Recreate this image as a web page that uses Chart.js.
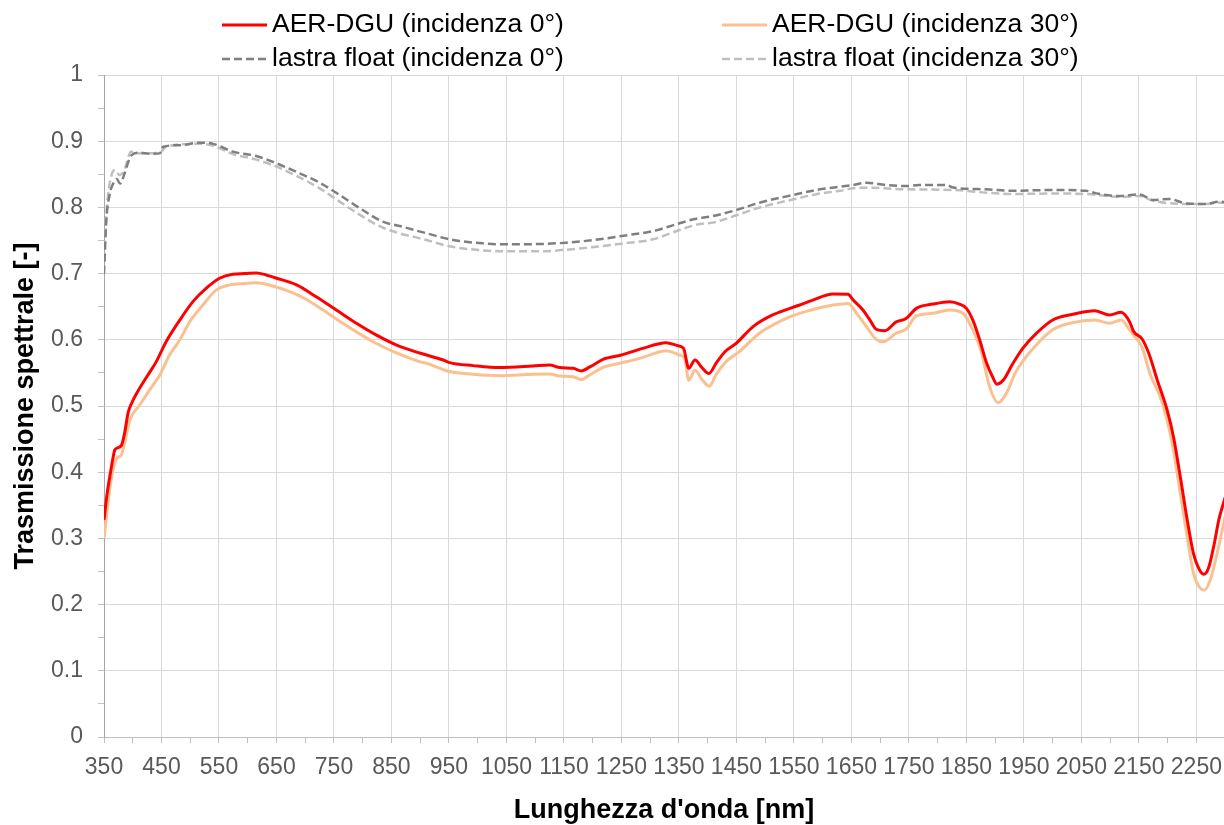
<!DOCTYPE html>
<html><head><meta charset="utf-8">
<script src="https://cdn.jsdelivr.net/npm/chart.js@4"></script>
<style>html,body{margin:0;padding:0;background:#fff;overflow:hidden}</style>
</head><body>
<div style="width:1224px;height:825px"><canvas id="c" width="1224" height="825"></canvas></div>
<script>
// ---- Data ----
const seriesLabels = ['AER-DGU (incidenza 0°)', 'AER-DGU (incidenza 30°)', 'lastra float (incidenza 0°)', 'lastra float (incidenza 30°)'];

const aer0_nm = [350,355,360,366,369,380,386,392,398,412,425,441,458,482,505,528,551,574,595,615,632,650,685,719,754,789,824,859,899,940,951,992,1038,1096,1125,1143,1166,1180,1195,1218,1250,1287,1328,1348,1358,1367,1378,1390,1402,1415,1430,1450,1479,1513,1560,1583,1618,1644,1653,1670,1682,1693,1708,1728,1745,1763,1792,1821,1838,1850,1861,1873,1885,1895,1903,1915,1930,1948,1972,2000,2035,2073,2099,2119,2134,2141,2155,2167,2182,2199,2210,2222,2234,2245,2257,2263,2271,2280,2289,2300];
const aer0_T  = [0.328,0.365,0.393,0.423,0.434,0.440,0.460,0.490,0.504,0.527,0.545,0.567,0.597,0.630,0.658,0.678,0.693,0.699,0.700,0.701,0.698,0.693,0.683,0.665,0.645,0.625,0.607,0.592,0.580,0.5695,0.5655,0.561,0.558,0.5604,0.562,0.558,0.557,0.553,0.559,0.5705,0.577,0.587,0.5956,0.591,0.587,0.557,0.5695,0.558,0.549,0.565,0.582,0.595,0.620,0.6375,0.6526,0.660,0.669,0.6687,0.660,0.645,0.630,0.616,0.6137,0.627,0.632,0.6475,0.654,0.6576,0.654,0.6475,0.630,0.600,0.565,0.545,0.533,0.540,0.563,0.587,0.610,0.630,0.6385,0.644,0.6375,0.6415,0.627,0.6123,0.602,0.580,0.539,0.494,0.454,0.393,0.328,0.277,0.250,0.246,0.255,0.2875,0.328,0.362];

const aer30_nm = [350,354,360,366,372,380,386,395,412,430,447,464,482,499,522,545,569,595,615,640,673,700,731,760,789,818,847,864,899,911,951,992,1038,1096,1125,1143,1166,1180,1195,1218,1247,1282,1317,1328,1351,1360,1367,1378,1390,1403,1415,1432,1455,1490,1537,1580,1618,1644,1659,1676,1693,1705,1728,1745,1763,1792,1821,1844,1861,1875,1890,1905,1920,1935,1950,1966,2000,2035,2073,2099,2119,2134,2141,2155,2170,2187,2199,2210,2222,2234,2245,2257,2264,2274,2286,2300];
const aer30_T  = [0.300,0.330,0.375,0.405,0.421,0.426,0.445,0.479,0.5015,0.525,0.547,0.577,0.600,0.627,0.6526,0.675,0.683,0.685,0.686,0.682,0.6727,0.662,0.645,0.628,0.612,0.597,0.5846,0.5785,0.567,0.5645,0.552,0.548,0.5458,0.548,0.5483,0.5453,0.5443,0.540,0.547,0.5584,0.5645,0.572,0.582,0.5835,0.577,0.572,0.539,0.554,0.540,0.530,0.548,0.567,0.582,0.610,0.6325,0.645,0.6526,0.655,0.640,0.620,0.6006,0.597,0.610,0.616,0.636,0.640,0.645,0.640,0.615,0.585,0.530,0.505,0.520,0.550,0.570,0.587,0.615,0.626,0.630,0.625,0.630,0.615,0.607,0.5896,0.5468,0.514,0.479,0.4335,0.368,0.3026,0.2472,0.2245,0.222,0.237,0.2774,0.333];

const float0_nm = [350,354,360,366,372,378,386,392,398,412,430,447,453,482,516,540,574,615,650,690,725,760,800,835,864,893,911,951,1009,1050,1108,1154,1212,1250,1305,1351,1375,1409,1450,1490,1548,1589,1630,1653,1676,1711,1745,1769,1815,1827,1885,1931,2000,2058,2076,2116,2151,2174,2203,2232,2267,2290,2300];
const float0_T  = [0.700,0.780,0.820,0.836,0.843,0.836,0.852,0.868,0.879,0.8826,0.881,0.8816,0.8917,0.894,0.8978,0.896,0.8842,0.8776,0.8666,0.8515,0.8373,0.8187,0.796,0.7784,0.772,0.765,0.7609,0.7518,0.7457,0.7442,0.7447,0.7467,0.7518,0.7568,0.7643,0.776,0.782,0.787,0.796,0.8071,0.8187,0.8263,0.8313,0.8338,0.8373,0.8338,0.8323,0.8338,0.8338,0.830,0.8273,0.8252,0.8263,0.8252,0.8212,0.8172,0.8197,0.8112,0.8127,0.806,0.8052,0.8087,0.808];

const float30_nm = [350,355,362,369,377,385,397,412,447,458,516,540,574,615,650,690,725,760,800,835,864,893,911,951,1009,1050,1108,1154,1212,1250,1305,1351,1386,1409,1450,1490,1548,1589,1630,1653,1676,1745,1827,1885,1931,2000,2058,2116,2151,2174,2232,2267,2290,2300];
const float30_T  = [0.720,0.800,0.845,0.8565,0.849,0.855,0.884,0.8816,0.8826,0.8917,0.896,0.893,0.8807,0.8722,0.8615,0.8454,0.8288,0.8087,0.786,0.7693,0.7609,0.7547,0.7507,0.7412,0.7351,0.7336,0.7336,0.7361,0.7412,0.7452,0.7518,0.7659,0.775,0.777,0.7881,0.7997,0.812,0.820,0.825,0.8288,0.8298,0.8273,0.8263,0.8222,0.8202,0.821,0.8202,0.816,0.8172,0.8102,0.8052,0.8052,0.8072,0.807];

// Tick values and labels
const xTicks = [350,400,450,500,550,600,650,700,750,800,850,900,950,1000,1050,1100,1150,1200,1250,1300,1350,1400,1450,1500,1550,1600,1650,1700,1750,1800,1850,1900,1950,2000,2050,2100,2150,2200,2250];
const xTickLabels = ['350','450','550','650','750','850','950','1050','1150','1250','1350','1450','1550','1650','1750','1850','1950','2050','2150','2250'];
const yTicks = [0,0.05,0.1,0.15,0.2,0.25,0.3,0.35,0.4,0.45,0.5,0.55,0.6,0.65,0.7,0.75,0.8,0.85,0.9,0.95,1];
const yTickLabels = ['0','0.1','0.2','0.3','0.4','0.5','0.6','0.7','0.8','0.9','1'];

const xTitle = "Lunghezza d'onda [nm]";
const yTitle = 'Trasmissione spettrale [-]';

// ---- Chart construction ----
const pts = (xs, ys) => xs.map((x, i) => ({x: x, y: ys[i]}));
const xLabelFor = v => { const s = String(v); return xTickLabels.includes(s) ? s : ''; };
const yLabelFor = v => { const s = String(Math.round(v * 100) / 100); return yTickLabels.includes(s) ? s : ''; };

const FONT = "'Liberation Sans', Arial, sans-serif";

const legendGrid = {
  id: 'legendGrid',
  afterDraw(chart) {
    const ctx = chart.ctx;
    const cols = [222, 722];
    const rows = [25, 59];
    const lineLen = 45, gap = 5;
    ctx.save();
    ctx.font = '26.5px ' + FONT;
    ctx.textBaseline = 'middle';
    ctx.textAlign = 'left';
    chart.data.datasets.forEach((ds, i) => {
      const x = cols[i % 2], y = rows[Math.floor(i / 2)];
      ctx.beginPath();
      ctx.strokeStyle = ds.borderColor;
      ctx.lineWidth = ds.borderWidth;
      ctx.setLineDash(ds.borderDash || []);
      ctx.moveTo(x, y);
      ctx.lineTo(x + lineLen, y);
      ctx.stroke();
      ctx.setLineDash([]);
      ctx.fillStyle = '#000000';
      ctx.fillText(ds.label, x + lineLen + gap, y);
    });
    ctx.restore();
  }
};

new Chart(document.getElementById('c'), {
  type: 'line',
  data: {
    datasets: [
      {label: seriesLabels[0], data: pts(aer0_nm, aer0_T), borderColor: '#ff0000', borderWidth: 3},
      {label: seriesLabels[1], data: pts(aer30_nm, aer30_T), borderColor: '#fac090', borderWidth: 3},
      {label: seriesLabels[2], data: pts(float0_nm, float0_T), borderColor: '#7f7f7f', borderWidth: 2.5, borderDash: [8, 4]},
      {label: seriesLabels[3], data: pts(float30_nm, float30_T), borderColor: '#bfbfbf', borderWidth: 2.5, borderDash: [8, 4]}
    ]
  },
  options: {
    responsive: false,
    animation: false,
    devicePixelRatio: 1,
    layout: {padding: {top: 75, left: 0, right: 0, bottom: 0}},
    elements: {point: {radius: 0}, line: {cubicInterpolationMode: 'monotone', fill: false}},
    plugins: {legend: {display: false}, tooltip: {enabled: false}},
    scales: {
      x: {
        type: 'linear',
        min: 350, max: 2298,
        afterBuildTicks: s => { s.ticks = xTicks.map(v => ({value: v})); },
        afterFit: s => { s.height = 88; s.paddingRight = 0; s.paddingLeft = 0; },
        ticks: {autoSkip: false, maxRotation: 0, minRotation: 0, padding: 11, color: '#595959',
                font: {family: FONT, size: 23}, callback: v => xLabelFor(v)},
        grid: {color: c => (c.tick && xLabelFor(c.tick.value) !== '') ? '#d9d9d9' : 'rgba(0,0,0,0)',
               tickColor: '#bfbfbf', tickLength: 6, lineWidth: 1},
        border: {color: '#bfbfbf', width: 1},
        title: {display: true, text: xTitle, color: '#000000', font: {family: FONT, size: 27, weight: 'bold'},
                padding: {top: 0, bottom: -2}}
      },
      y: {
        type: 'linear',
        min: 0, max: 1,
        afterBuildTicks: s => { s.ticks = yTicks.map(v => ({value: v})); },
        afterFit: s => { s.width = 104; },
        ticks: {autoSkip: false, padding: 15, color: '#595959',
                font: {family: FONT, size: 23}, callback: v => yLabelFor(v)},
        grid: {color: c => (c.tick && yLabelFor(c.tick.value) !== '') ? '#d9d9d9' : 'rgba(0,0,0,0)',
               tickColor: '#bfbfbf', tickLength: 6, lineWidth: 1},
        border: {color: '#a6a6a6', width: 1},
        title: {display: true, text: yTitle, color: '#000000', font: {family: FONT, size: 27, weight: 'bold'},
                padding: {top: 9, bottom: 0}}
      }
    }
  },
  plugins: [legendGrid]
});
</script>
</body></html>
